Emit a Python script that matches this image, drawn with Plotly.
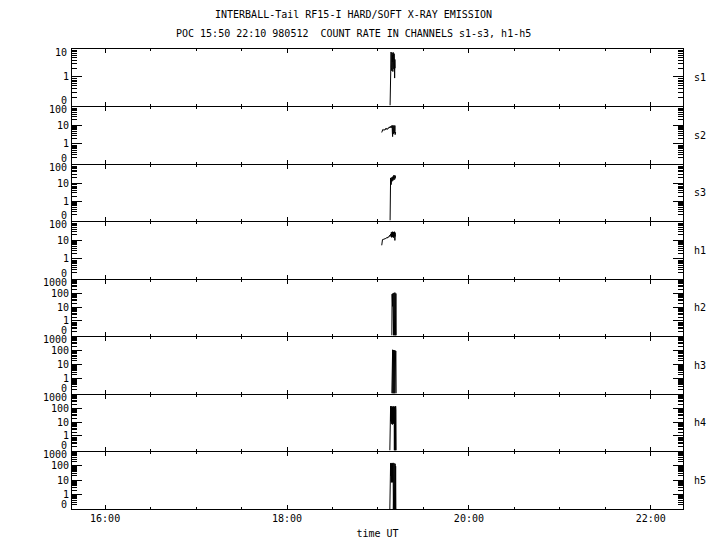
import math
import pandas as pd
import plotly.graph_objects as go
from plotly.subplots import make_subplots

# ---------------- data ----------------
channels = ["s1", "s2", "s3", "h1", "h2", "h3", "h4", "h5"]
y_tops = [10, 100, 100, 100, 1000, 1000, 1000, 1000]
major_tick_values = [1, 10, 100]
tick_labels = ["1", "10", "100"]
x_tick_labels_fmt = "%H:%M"

SHIFT = 0.1          # zero is drawn at 0.1 on the log scale
CADENCE = "10s"      # sampling cadence of the count rates
DAY = "1998-05-12"

s1_start = "19:08:00"
s1_values = [0, 2.6, 6.5, 3.0, 7.8, 2.2, 5.0, 1.6, 7.2, 3.4, 6.0, 1.5, 7.6,
             2.8, 5.5, 1.9, 6.8, 3.1, 0.84, 4.2, 2.0]

s2_start = "19:02:30"
s2_values = [4.2,
             5.6, 5.9, 5.7, 6.0, 5.8, 5.5, 5.9, 6.1, 5.7, 5.8, 6.0, 5.6,
             6.3, 6.8, 6.1, 7.0, 6.5, 6.2, 6.9, 6.4, 6.0, 6.6, 7.2, 6.5, 6.8, 7.4, 6.9,
             7.8, 7.2, 8.4, 7.5, 8.0, 7.6,
             8.5, 7.8, 9.0, 8.2, 7.6, 9.4, 8.0,
             10.2, 4.0, 2.5, 9.6, 3.4, 8.8, 4.6, 10.0, 3.8, 9.2, 5.0, 9.8, 3.2, 8.5, 4.4]

s3_start = "19:08:00"
s3_values = [0, 16.4, 19.0, 14.5, 8.2, 18.0, 13.0, 20.5, 12.5, 21.0, 15.0, 22.5,
             14.0, 24.0, 16.0, 26.7, 17.5, 25.0, 15.5, 26.0, 18.0, 24.5]

h1_start = "19:02:30"
h1_values = [5.5,
             11.0, 10.5, 11.2, 10.8, 11.5, 10.6, 11.0, 11.8, 11.2, 12.0,
             12.5, 11.8, 13.0, 12.2, 12.8, 13.5, 12.6, 13.2, 14.0, 13.0,
             13.6, 14.2, 13.4, 14.8, 14.0, 15.5, 14.6, 16.5, 15.2,
             17.0, 18.5, 16.5, 19.5, 18.0, 20.5,
             22.0, 16.0, 27.0, 14.5, 25.0, 18.0, 29.0, 15.0, 26.0, 19.0, 28.0,
             14.0, 27.5, 17.0, 29.0, 20.0, 10.0, 26.0, 16.0]

h2_start = "19:09:10"
h2_values = [0, 90, 70, 12, 100, 8, 85, 0, 110, 0, 95, 0, 116, 0, 90, 0, 100, 0]

h3_start = "19:09:10"
h3_values = [0, 95, 0, 117, 0, 105, 0, 112, 0, 98, 0, 108, 0, 92, 0, 100, 96, 0]

h4_start = "19:07:50"
h4_values = [0, 120, 9, 140, 12, 150, 8, 110, 14, 135, 7, 125, 10, 145, 8, 115,
             11, 140, 0, 130, 0, 100, 0, 147, 80, 0]

h5_start = "19:07:50"
h5_values = [0, 110, 8, 150, 20, 160, 7, 130, 9, 155, 7, 140, 8, 162, 0, 120,
             0, 150, 0, 100, 0, 140, 0, 95, 0, 0]

series = [(s1_start, s1_values), (s2_start, s2_values), (s3_start, s3_values),
          (h1_start, h1_values), (h2_start, h2_values), (h3_start, h3_values),
          (h4_start, h4_values), (h5_start, h5_values)]

title1 = "INTERBALL-Tail RF15-I HARD/SOFT X-RAY EMISSION"
title2 = "POC 15:50 22:10 980512  COUNT RATE IN CHANNELS s1-s3, h1-h5"
x_title = "time UT"
x_range = [DAY + " 15:38:10", DAY + " 22:21:14"]

# ---------------- figure ----------------
FONT = "DejaVu Sans Mono"
fs = 10
n = len(channels)
PLOT_H = 460
# panel boundaries on whole pixels (from the top); a 1 px gap lets the
# bottom line of one panel and the top line of the next fall on the same row
bounds_px = [0, 57, 115, 172, 230, 287, 345, 402, 460]

fig = make_subplots(rows=n, cols=1, shared_xaxes=True, vertical_spacing=0)

for k, (name, (start, vals)) in enumerate(zip(channels, series), start=1):
    t = pd.date_range(DAY + " " + start, periods=len(vals), freq=CADENCE)
    fig.add_trace(go.Scatter(x=t, y=[v + SHIFT for v in vals], mode="lines",
                             line=dict(color="black", width=1),
                             showlegend=False, hoverinfo="skip"), row=k, col=1)

    top = y_tops[k - 1]
    tv = [v + SHIFT for v in major_tick_values if v < top]
    tt = [l for v, l in zip(major_tick_values, tick_labels) if v < top]
    minor_vals = []
    d = 0.1
    while d < top:
        for m in range(2, 10):
            if m * d < top + SHIFT:
                minor_vals.append(m * d)
        d *= 10
    top_px = bounds_px[k - 1] + (0 if k == 1 else 0.5)
    bot_px = bounds_px[k] - (0 if k == n else 0.5)
    dom = [1 - bot_px / PLOT_H, 1 - top_px / PLOT_H]
    fig.update_yaxes(type="log", range=[math.log10(SHIFT), math.log10(top + SHIFT)],
                     domain=dom, autorange=False, automargin=False,
                     tickmode="array", tickvals=tv, ticktext=tt,
                     ticks="inside", ticklen=10, tickwidth=1, tickcolor="black",
                     minor=dict(tickmode="array", tickvals=minor_vals, ticks="inside",
                                ticklen=5, tickwidth=1, tickcolor="black", showgrid=False),
                     showline=True, linecolor="black", linewidth=1, mirror="ticks",
                     showgrid=False, zeroline=False,
                     tickfont=dict(family=FONT, size=fs, color="black"),
                     row=k, col=1)
    fig.update_xaxes(type="date", range=x_range, autorange=False, automargin=False,
                     tickformat=x_tick_labels_fmt,
                     tick0=DAY + " 00:00:00", dtick=7200000,
                     ticks="inside", ticklen=4, tickwidth=1, tickcolor="black",
                     minor=dict(dtick=1800000, ticks="inside", ticklen=2,
                                tickwidth=1, tickcolor="black", showgrid=False),
                     showline=True, linecolor="black", linewidth=1, mirror="ticks",
                     showgrid=False, zeroline=False,
                     showticklabels=(k == n),
                     tickfont=dict(family=FONT, size=fs, color="black"),
                     row=k, col=1)

    ax = "y" if k == 1 else f"y{k}"
    # bottom "0" and top labels of each panel
    fig.add_annotation(text="0", xref="paper", x=0, xanchor="right", xshift=-3,
                       yref=f"{ax} domain", y=0, yanchor="middle", yshift=5,
                       showarrow=False, font=dict(family=FONT, size=fs, color="black"))
    fig.add_annotation(text=str(top), xref="paper", x=0, xanchor="right", xshift=-3,
                       yref=f"{ax} domain", y=1, yanchor="middle", yshift=-3,
                       showarrow=False, font=dict(family=FONT, size=fs, color="black"))
    # channel name on the right
    fig.add_annotation(text=name, xref="paper", x=1, xanchor="left", xshift=9,
                       yref=f"{ax} domain", y=0.5, yanchor="middle",
                       showarrow=False, font=dict(family=FONT, size=fs, color="black"))

fig.update_xaxes(title=dict(text=x_title, standoff=6,
                            font=dict(family=FONT, size=fs, color="black")),
                 row=n, col=1)

fig.add_annotation(text=title1, xref="paper", x=0.4607, xanchor="center",
                   yref="paper", y=1, yanchor="middle", yshift=35, showarrow=False,
                   font=dict(family=FONT, size=fs, color="black"))
fig.add_annotation(text=title2, xref="paper", x=0.4607, xanchor="center",
                   yref="paper", y=1, yanchor="middle", yshift=16, showarrow=False,
                   font=dict(family=FONT, size=fs, color="black"))

# the page body adds an 8 px offset, so the figure is 8 px smaller and margins shifted
fig.update_layout(template="none", width=712, height=542,
                  paper_bgcolor="white", plot_bgcolor="white",
                  margin=dict(l=64, r=37, t=41, b=41, autoexpand=False), showlegend=False,
                  font=dict(family=FONT, size=fs, color="black"))

fig.write_html("out.html")
